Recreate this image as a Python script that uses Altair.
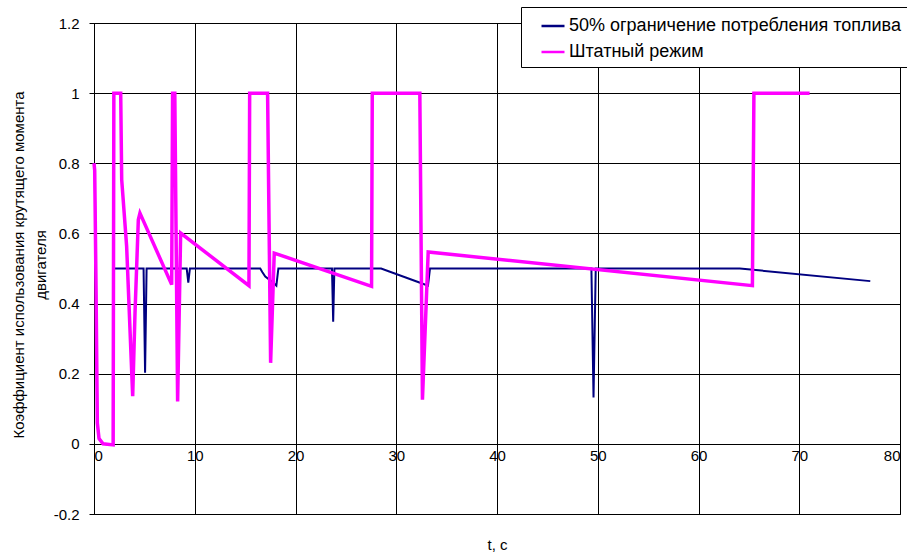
import altair as alt
import pandas as pd

# ---- data ----
series_names = ["50% ограничение потребления топлива", "Штатный режим"]
series_colors = ["#000080", "#FF00FF"]

blue_t = [0.0, 0.07, 0.2, 0.33, 0.5, 0.9, 1.9, 1.97, 4.92, 5.07, 5.22, 9.2, 9.36, 9.52,
          16.5, 16.7, 17.0, 17.7, 18.1, 18.3, 23.62, 23.74, 23.86, 28.5, 32.3, 33.15,
          33.35, 49.37, 49.58, 49.8, 64.1, 77.05]
blue_v = [0.80, 0.78, 0.45, 0.06, 0.015, 0.0, -0.003, 0.5, 0.5, 0.203, 0.5, 0.5, 0.46, 0.5,
          0.5, 0.49, 0.477, 0.462, 0.451, 0.5, 0.5, 0.348, 0.5, 0.5, 0.46, 0.451,
          0.5, 0.5, 0.132, 0.5, 0.5, 0.464]

mag_t = [0.0, 0.07, 0.2, 0.33, 0.5, 0.9, 1.9, 1.97, 2.65, 2.75, 3.24, 3.84, 4.07, 4.4,
         4.56, 7.71, 7.8, 8.02, 8.3, 8.6, 15.38, 15.45, 17.23, 17.53, 17.89, 27.55,
         27.62, 32.34, 32.6, 33.17, 65.35, 65.5, 71.03]
mag_v = [0.80, 0.78, 0.45, 0.06, 0.015, 0.0, -0.003, 1.0, 1.0, 0.753, 0.563, 0.136, 0.373,
         0.639, 0.658, 0.454, 1.0, 1.0, 0.121, 0.601, 0.451, 1.0, 1.0, 0.231, 0.544,
         0.449, 1.0, 1.0, 0.126, 0.547, 0.451, 1.0, 1.0]

x_ticks = [0, 10, 20, 30, 40, 50, 60, 70, 80]
y_ticks = [-0.2, 0, 0.2, 0.4, 0.6, 0.8, 1.0, 1.2]

y_title = ["Коэффициент использования крутящего момента", "двигателя"]
x_title = "t, c"

df_b = pd.DataFrame({"t": blue_t, "v": blue_v, "series": series_names[0],
                     "idx": list(range(len(blue_t)))})
df_m = pd.DataFrame({"t": mag_t, "v": mag_v, "series": series_names[1],
                     "idx": list(range(len(mag_t)))})

W, H = 806, 491
FONT = "Liberation Sans"

color = alt.Color(
    "series:N",
    scale=alt.Scale(domain=series_names, range=series_colors),
    legend=alt.Legend(
        title=None, orient="none", legendX=427, legendY=-16,
        fillColor="white", strokeColor="black", padding=6,
        symbolType="stroke", symbolSize=529, symbolStrokeWidth=2.5,
        symbolOffset=13, labelOffset=3, rowPadding=4,
        labelFontSize=18, labelFont=FONT, labelColor="black", labelLimit=600,
    ),
)

x = alt.X(
    "t:Q",
    scale=alt.Scale(domain=[0, 80], nice=False, zero=False),
    axis=alt.Axis(
        values=x_ticks, title=x_title, offset=-70, grid=True, ticks=False,
        labelPadding=4, titlePadding=74, format="d",
    ),
)
y = alt.Y(
    "v:Q",
    scale=alt.Scale(domain=[-0.2, 1.2], nice=False, zero=False),
    axis=alt.Axis(
        values=y_ticks, title=y_title, grid=True, tickSize=5, labelPadding=10,
        titlePadding=5, titleLineHeight=22, titleAlign="center", titleAnchor="middle",
        titleY=H / 2 - 4,
        labelExpr="replace(format(datum.value, '~g'), '\u2212', '-')",
    ),
)

blue = alt.Chart(df_b).mark_line(strokeWidth=2).encode(
    x=x, y=y, color=color, order=alt.Order("idx:Q"))
mag = alt.Chart(df_m).mark_line(strokeWidth=3.5).encode(
    x=x, y=y, color=color, order=alt.Order("idx:Q"))

chart = (
    alt.layer(blue, mag)
    .properties(
        width=W, height=H,
        padding={"left": 94, "top": 23, "right": 7, "bottom": 39},
        autosize=alt.AutoSizeParams(type="none"),
        background="white",
    )
    .configure_view(stroke="black", strokeWidth=1)
    .configure_axis(
        gridColor="#000000", gridOpacity=1, gridWidth=1,
        domainColor="#000000", tickColor="#000000",
        labelFont=FONT, labelFontSize=15, labelColor="black",
        titleFont=FONT, titleFontSize=15, titleFontWeight="normal", titleColor="black",
    )
)

chart.save("out.html", embed_options={"renderer": "svg", "actions": False})
